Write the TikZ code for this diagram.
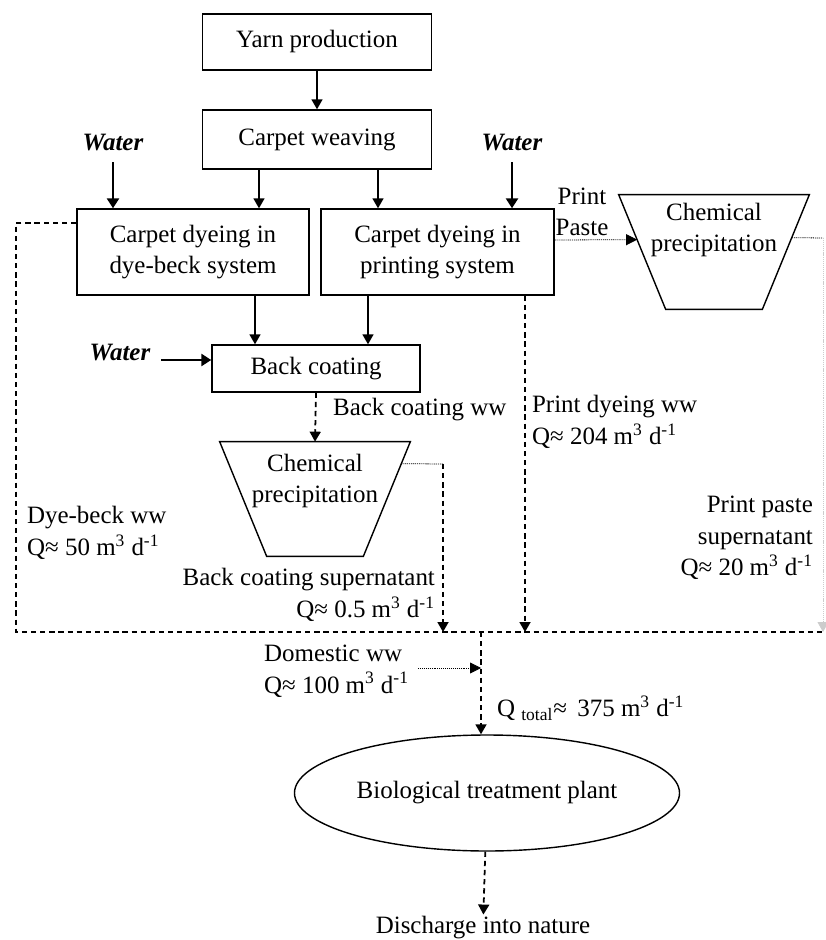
\documentclass[tikz,border=0pt]{standalone}
\usepackage{fontspec}
\setmainfont{Liberation Serif}
\usetikzlibrary{arrows.meta,shapes.geometric}

\tikzset{pbox/.style = {shape = rectangle,
                        draw,
                        line width = 0.8pt,
                        align = center,
                        inner sep = 1pt,
                        font = \fontsize{14.2}{18}\selectfont},
         tankbox/.style = {shape = rectangle,
                        minimum width = 3.8cm,
                        minimum height = 2.28cm,
                        inner sep = 0pt},
         tankline/.style = {line width = 0.8pt,
                        line join = miter},
         txt/.style  = {align = center,
                        inner sep = 1pt,
                        font = \fontsize{14.2}{18}\selectfont},
         water/.style = {inner sep = 1pt,
                        font = \fontsize{14.2}{18}\selectfont\bfseries\itshape},
         arr/.style  = {line width = 0.9pt,
                        -{Triangle[length = 0.2cm, width = 0.22cm]}},
         warr/.style = {line width = 1.6pt,
                        shorten <= 5pt,
                        -{Triangle[length = 0.2cm, width = 0.24cm]}},
         wwline/.style = {line width = 1pt,
                        dash pattern = on 3pt off 2.2pt},
         wwarr/.style = {wwline,
                        -{Triangle[length = 0.2cm, width = 0.22cm]}},
         dotline/.style = {line width = 0.45pt,
                        dash pattern = on 0.6pt off 0.5pt},
         dotarr/.style = {dotline,
                        -{Triangle[length = 0.22cm, width = 0.22cm]}}}

\begin{document}
\begin{tikzpicture}
	\useasboundingbox (0,0) rectangle (16.52,-18.8);

	% process chain
	\node[pbox, minimum width = 4.58cm, minimum height = 1.12cm] (yarn) at (6.34,-0.84) {Yarn production};
	\node[pbox, minimum width = 4.58cm, minimum height = 1.18cm] (weave) at (6.34,-2.79) {Carpet weaving};
	\node[pbox, minimum width = 4.64cm, minimum height = 1.72cm] (dyebeck) at (3.86,-5.04) {Carpet dyeing in\\dye-beck system};
	\node[pbox, minimum width = 4.66cm, minimum height = 1.72cm] (print) at (8.75,-5.04) {Carpet dyeing in\\printing system};
	\node[pbox, minimum width = 4.16cm, minimum height = 0.94cm] (back) at (6.32,-7.37) {Back coating};
	\node[tankbox, label = {[txt, yshift = 0.36cm]center:Chemical\\precipitation}] (prec1) at (6.3,-9.98) {};
	\node[tankbox, label = {[txt, yshift = 0.44cm]center:Chemical\\precipitation}] (prec2) at (14.28,-5.04) {};
	\node[ellipse, draw, line width = 0.8pt, minimum width = 7.5cm, minimum height = 2.32cm,
	      font = \fontsize{14.2}{18}\selectfont] (bio) at (9.74,-15.86) {Biological treatment plant};
	\node[txt] (nature) at (9.66,-18.56) {Discharge into nature};

	% settling tanks
	\draw[tankline] (prec1.north west) -- (prec1.north east) -- ([xshift = -0.94cm]prec1.south east)
	                -- ([xshift = 0.94cm]prec1.south west) -- cycle;
	\draw[tankline] (prec2.north west) -- (prec2.north east) -- ([xshift = -0.94cm]prec2.south east)
	                -- ([xshift = 0.94cm]prec2.south west) -- cycle;

	% water inputs
	\node[water] (w1) at (2.26,-2.86) {Water};
	\node[water] (w2) at (10.24,-2.86) {Water};
	\node[water] (w3) at (2.4,-7.06) {Water};

	% flow labels
	\node[txt] (pp) at (11.64,-4.24) {Print\\Paste};
	\node[txt, anchor = west] (bcww) at (6.62,-8.2) {Back coating ww};
	\node[txt, anchor = east, align = right] (bcsup) at (8.74,-11.9) {Back coating supernatant\\Q≈ 0.5 m\textsuperscript{3} d\textsuperscript{-1}};
	\node[txt, anchor = west, align = left] (dbww) at (0.5,-10.66) {Dye-beck ww\\Q≈ 50 m\textsuperscript{3} d\textsuperscript{-1}};
	\node[txt, anchor = west, align = left] (pdww) at (10.6,-8.44) {Print dyeing ww\\Q≈ 204 m\textsuperscript{3} d\textsuperscript{-1}};
	\node[txt, anchor = east, align = right] (ppsup) at (16.3,-10.76) {Print paste\\supernatant\\Q≈ 20 m\textsuperscript{3} d\textsuperscript{-1}};
	\node[txt, anchor = west, align = left] (dom) at (5.24,-13.42) {Domestic ww\\Q≈ 100 m\textsuperscript{3} d\textsuperscript{-1}};
	\node[txt, anchor = west] (qtot) at (9.9,-14.16) {Q \textsubscript{total}≈\, 375 m\textsuperscript{3} d\textsuperscript{-1}};

	% collector and junctions
	\coordinate (colL) at (0.32,-12.64);
	\coordinate (colR) at (16.52,-12.64);
	\coordinate (jn) at (9.62,-12.64);
	\coordinate (bc1) at (8.86,-9.28);
	\coordinate (pp1) at (16.46,-4.76);

	% solid flows
	\draw[arr] (yarn) -- (weave);
	\draw[arr] ([xshift = -1.16cm]weave.south) -- ([xshift = -1.16cm]weave.south |- dyebeck.north);
	\draw[arr] ([xshift = 1.22cm]weave.south) -- ([xshift = 1.22cm]weave.south |- print.north);
	\draw[arr] ([xshift = -1.22cm]back.north |- dyebeck.south) -- ([xshift = -1.22cm]back.north);
	\draw[arr] ([xshift = 1.04cm]back.north |- print.south) -- ([xshift = 1.04cm]back.north);
	\draw[warr] (w1.south) -- (w1.south |- dyebeck.north);
	\draw[warr] (w2.south) -- (w2.south |- print.north);
	\draw[warr] ([yshift = -0.14cm]w3.east) -- ([yshift = -0.14cm]w3.east -| back.west);

	% wastewater flows
	\draw[wwline] ([yshift = 0.58cm]dyebeck.west) -| (colL) -- (colR);
	\draw[wwarr] (back.south) -- (prec1.north);
	\draw[dotline] ([shift = {(-0.18cm,-0.44cm)}]prec1.north east) -- (bc1);
	\draw[wwarr] (bc1) -- (bc1 |- colL);
	\draw[wwarr] ([xshift = 1.75cm]print.south) -- ([xshift = 1.75cm]print.south |- colL);
	\draw[dotarr] ([yshift = 0.24cm]print.east) -- ([shift = {(0.37cm,-0.9cm)}]prec2.north west);
	\draw[dotline] ([shift = {(-0.35cm,-0.86cm)}]prec2.north east) -- (pp1);
	\draw[dotline, black!20, -{Triangle[length = 0.2cm, width = 0.22cm]}] (pp1) -- (pp1 |- colL);
	\draw[dotarr] ([xshift = 4pt, yshift = 0.06cm]dom.east) -- ([yshift = 0.06cm]dom.east -| jn);
	\draw[wwarr] (jn) -- (jn |- bio.north);
	\draw[wwarr] (bio) -- (nature);
\end{tikzpicture}
\end{document}
